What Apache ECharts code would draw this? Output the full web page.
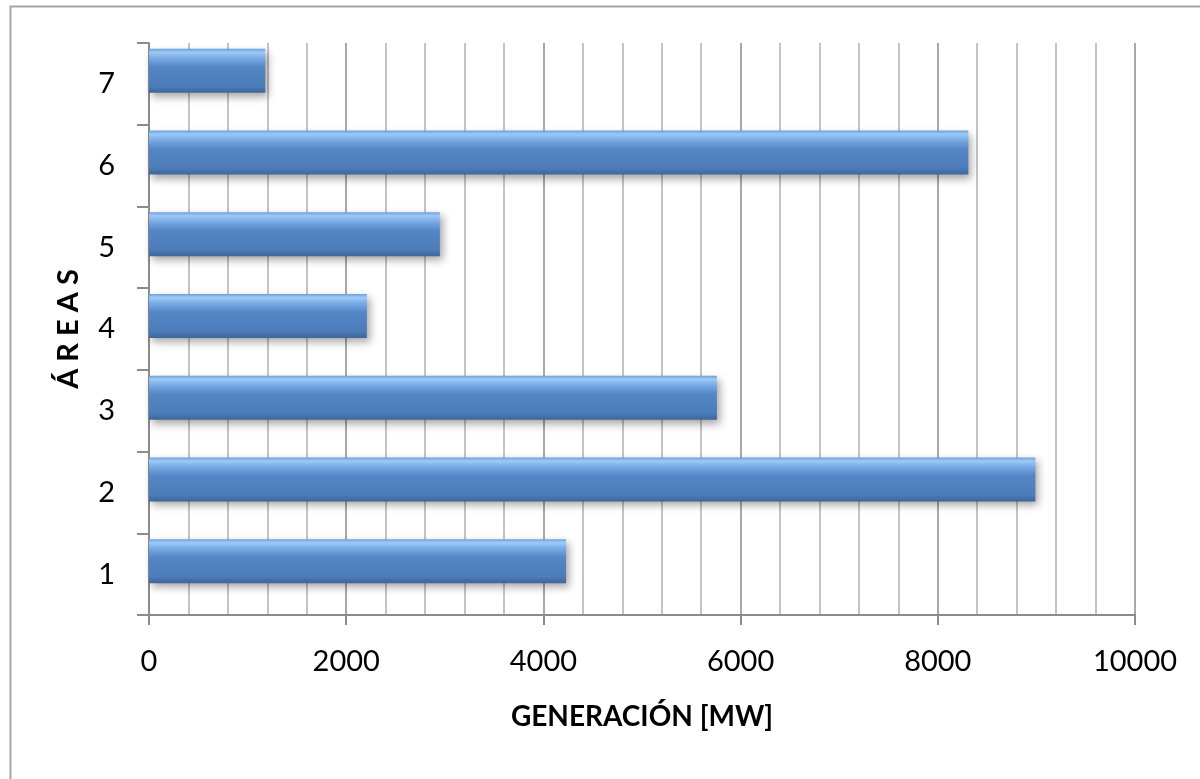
<!DOCTYPE html>
<html>
<head>
<meta charset="utf-8">
<script src="https://cdn.jsdelivr.net/npm/echarts@6/dist/echarts.min.js"></script>
<style>html,body{margin:0;padding:0;background:#fff;}#c{width:1200px;height:779px;}</style>
</head>
<body>
<div id="c"></div>
<script>
var categories = ['1', '2', '3', '4', '5', '6', '7'];
var generacion = [4230, 8990, 5760, 2210, 2950, 8310, 1180];
var xTicks = [0, 2000, 4000, 6000, 8000, 10000];
var xName = 'GENERACIÓN [MW]';
var yName = 'Á R E A S';

var chart = echarts.init(document.getElementById('c'));
var font = 'Lato, "Open Sans", sans-serif';
chart.setOption({
  backgroundColor: '#ffffff',
  animation: false,
  graphic: [{
    type: 'rect', left: 8, top: 4,
    shape: { width: 1300, height: 900 },
    style: { fill: 'none', stroke: '#a6a6a6', lineWidth: 2 },
    z: -1
  }],
  grid: { left: 149, right: 65, top: 43, bottom: 164, containLabel: false },
  xAxis: {
    type: 'value', min: xTicks[0], max: xTicks[xTicks.length - 1], interval: 2000,
    name: xName, nameLocation: 'middle', nameGap: 88,
    nameTextStyle: { fontFamily: font, fontWeight: 'bold', fontSize: 28, color: '#000' },
    axisLine: { show: true, lineStyle: { color: '#8c8c8c', width: 2 } },
    axisTick: { show: true, length: 10, lineStyle: { color: '#8c8c8c', width: 2 } },
    axisLabel: { margin: 32, fontFamily: font, fontSize: 29, color: '#000',
      formatter: function (v) { return String(v); } },
    splitLine: { show: true, lineStyle: { color: '#a8a8a8', width: 2 } },
    minorTick: { show: false, splitNumber: 5 },
    minorSplitLine: { show: true, lineStyle: { color: '#c4c4c4', width: 2 } }
  },
  yAxis: {
    type: 'category', data: categories,
    name: yName, nameLocation: 'middle', nameGap: 66, nameRotate: 90,
    nameTextStyle: { fontFamily: font, fontWeight: 'bold', fontSize: 29, color: '#000' },
    axisLine: { show: true, lineStyle: { color: '#8c8c8c', width: 2 } },
    axisTick: { show: true, length: 12, alignWithLabel: false, lineStyle: { color: '#8c8c8c', width: 2 } },
    axisLabel: { margin: 34, fontFamily: font, fontSize: 29, color: '#000' },
    splitLine: { show: false }
  },
  series: [{
    type: 'bar', data: generacion, barWidth: 44, barGap: '0%',
    itemStyle: {
      color: new echarts.graphic.LinearGradient(0, 0, 0, 1, [
        { offset: 0, color: '#6e9fda' },
        { offset: 0.08, color: '#9ccaf8' },
        { offset: 0.22, color: '#78a9e4' },
        { offset: 0.42, color: '#5486c6' },
        { offset: 0.85, color: '#4c7cb9' },
        { offset: 1, color: '#3e6699' }
      ]),
      shadowColor: 'rgba(0,0,0,0.35)', shadowBlur: 8, shadowOffsetX: 3, shadowOffsetY: 4
    }
  }, {
    type: 'bar', data: categories.map(function(){ return 0; }), barWidth: 26, barGap: '0%',
    itemStyle: { color: 'rgba(0,0,0,0)' }, silent: true
  }]
});
</script>
</body>
</html>
